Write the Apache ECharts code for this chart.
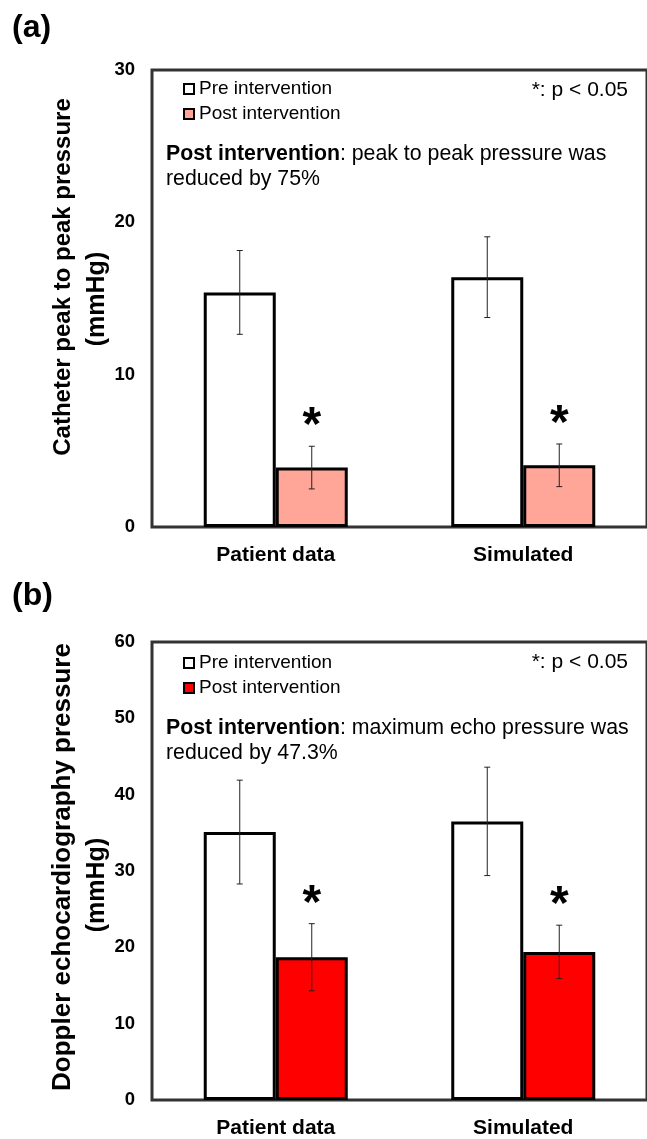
<!DOCTYPE html>
<html lang="en">
<head>
    <meta charset="UTF-8">
    <title>Catheter and Doppler pressure</title>
    <style>
        html, body { margin: 0; padding: 0; background: #fff; }
        #chart { width: 647px; height: 1139px; }
    </style>
</head>
<body>
<div id="chart"></div>
<script type="text/javascript" src="https://cdn.jsdelivr.net/npm/echarts@6/dist/echarts.min.js"></script>
<script type="text/javascript">
    var categories = ['Patient data', 'Simulated'];

    // (a) catheter peak to peak pressure, mmHg
    var preA = [15.4, 16.4];
    var preAErr = [2.75, 2.65];
    var postA = [3.9, 4.05];
    var postAErr = [1.4, 1.4];
    var sigA = [1, 1];

    // (b) doppler echocardiography pressure, mmHg
    var preB = [35.1, 36.5];
    var preBErr = [6.8, 7.1];
    var postB = [18.7, 19.4];
    var postBErr = [4.4, 3.5];
    var sigB = [1, 1];

    var yMaxA = 30, yMaxB = 60, yStep = 10;

    var FONT = '"Liberation Sans", Arial, sans-serif';
    var postColorA = '#ffa698';
    var postColorB = '#ff0000';
    var BAR_W = 72;

    var dom = document.getElementById('chart');
    var myChart = echarts.init(dom);

    function errData(vals, errs, sig) {
        return vals.map(function (v, i) {
            return [i, v, errs[i], sig ? sig[i] : 0];
        });
    }

    // error bar (+ optional asterisk) drawn next to a category centre
    function errRender(offset) {
        return function (params, api) {
            var i = api.value(0), v = api.value(1), e = api.value(2);
            var top = api.coord([i, v + e]);
            var bot = api.coord([i, v - e]);
            var x = top[0] + offset;
            var st = {stroke: '#222', lineWidth: 1};
            var children = [
                {type: 'line', shape: {x1: x, y1: top[1], x2: x, y2: bot[1]}, style: st},
                {type: 'line', shape: {x1: x - 3, y1: top[1], x2: x + 3, y2: top[1]}, style: st},
                {type: 'line', shape: {x1: x - 3, y1: bot[1], x2: x + 3, y2: bot[1]}, style: st}
            ];
            if (api.value(3)) {
                children.push({
                    type: 'text', x: x, y: top[1] + 5,
                    style: {text: '*', fill: '#000', font: 'bold 48px ' + FONT, align: 'center', verticalAlign: 'bottom'}
                });
            }
            return {type: 'group', children: children};
        };
    }

    function axisPair(idx, max) {
        return {
            x: {
                type: 'category', gridIndex: idx, data: categories,
                axisLine: {show: false}, axisTick: {show: false},
                axisLabel: {color: '#000', fontFamily: FONT, fontWeight: 'bold', fontSize: 21, margin: 18}
            },
            y: {
                type: 'value', gridIndex: idx, min: 0, max: max, interval: yStep,
                axisLine: {show: false}, axisTick: {show: false}, splitLine: {show: false},
                axisLabel: {color: '#000', fontFamily: FONT, fontWeight: 'bold', fontSize: 18.5, margin: 17}
            }
        };
    }

    var axA = axisPair(0, yMaxA), axB = axisPair(1, yMaxB);

    function legendFor(top, postColor) {
        return {
            orient: 'vertical', left: 183, top: top, padding: 0,
            icon: 'rect', itemWidth: 10, itemHeight: 10, itemGap: 5,
            selectedMode: false,
            itemStyle: {borderColor: '#000', borderWidth: 2},
            textStyle: {color: '#000', fontFamily: FONT, fontSize: 19, lineHeight: 20},
            data: [
                {name: 'Pre intervention', itemStyle: {color: '#fff'}},
                {name: 'Post intervention', itemStyle: {color: postColor}}
            ]
        };
    }

    function bars(idx, pre, post, postColor) {
        return [
            {
                name: 'Pre intervention', type: 'bar', xAxisIndex: idx, yAxisIndex: idx,
                data: pre, barWidth: BAR_W, barGap: '0%',
                itemStyle: {color: '#fff', borderColor: '#000', borderWidth: 3}
            },
            {
                name: 'Post intervention', type: 'bar', xAxisIndex: idx, yAxisIndex: idx,
                data: post, barWidth: BAR_W, barGap: '0%',
                itemStyle: {color: postColor, borderColor: '#000', borderWidth: 3}
            }
        ];
    }

    function errSeries(idx, data, offset) {
        return {
            type: 'custom', xAxisIndex: idx, yAxisIndex: idx, z: 5,
            renderItem: errRender(offset), encode: {x: 0, y: 1}, data: data
        };
    }

    function txt(x, y, text, font, align, extra) {
        var o = {
            type: 'text', x: x, y: y,
            style: {text: text, fill: '#000', font: font, align: align || 'left', verticalAlign: 'middle'}
        };
        if (extra) { for (var k in extra) o[k] = extra[k]; }
        return o;
    }

    var rich = {
        b: {fontFamily: FONT, fontWeight: 'bold', fontSize: 21.3, fill: '#000'},
        n: {fontFamily: FONT, fontSize: 21.3, fill: '#000'}
    };

    function note(y, line1, line2) {
        return {
            type: 'text', x: 166, y: y,
            style: {
                text: '{b|Post intervention}{n|: ' + line1 + '}\n{n|' + line2 + '}',
                rich: rich, lineHeight: 25, align: 'left', verticalAlign: 'top',
                font: '21px ' + FONT, fill: '#000'
            }
        };
    }

    var option = {
        animation: false,
        grid: [
            {left: 152, top: 70, width: 505, height: 457, show: true, borderColor: '#333', borderWidth: 3},
            {left: 152, top: 642, width: 505, height: 458, show: true, borderColor: '#333', borderWidth: 3}
        ],
        xAxis: [axA.x, axB.x],
        yAxis: [axA.y, axB.y],
        legend: [legendFor(79, postColorA), legendFor(653, postColorB)],
        graphic: [
            txt(12, 28, '(a)', 'bold 32px ' + FONT),
            txt(12, 596, '(b)', 'bold 32px ' + FONT),
            txt(63, 277, 'Catheter peak to peak pressure', 'bold 24px ' + FONT, 'center', {rotation: Math.PI / 2}),
            txt(97, 299, '(mmHg)', 'bold 25px ' + FONT, 'center', {rotation: Math.PI / 2}),
            txt(63, 867, 'Doppler echocardiography pressure', 'bold 26px ' + FONT, 'center', {rotation: Math.PI / 2}),
            txt(97, 885, '(mmHg)', 'bold 25px ' + FONT, 'center', {rotation: Math.PI / 2}),
            txt(628, 90, '*: p < 0.05', '21px ' + FONT, 'right'),
            txt(628, 662, '*: p < 0.05', '21px ' + FONT, 'right'),
            note(142, 'peak to peak pressure was', 'reduced by 75%'),
            note(716, 'maximum echo pressure was', 'reduced by 47.3%')
        ],
        series: [].concat(
            bars(0, preA, postA, postColorA),
            bars(1, preB, postB, postColorB),
            [
                errSeries(0, errData(preA, preAErr), -BAR_W / 2),
                errSeries(0, errData(postA, postAErr, sigA), BAR_W / 2),
                errSeries(1, errData(preB, preBErr), -BAR_W / 2),
                errSeries(1, errData(postB, postBErr, sigB), BAR_W / 2)
            ]
        )
    };

    myChart.setOption(option);
</script>
</body>
</html>
